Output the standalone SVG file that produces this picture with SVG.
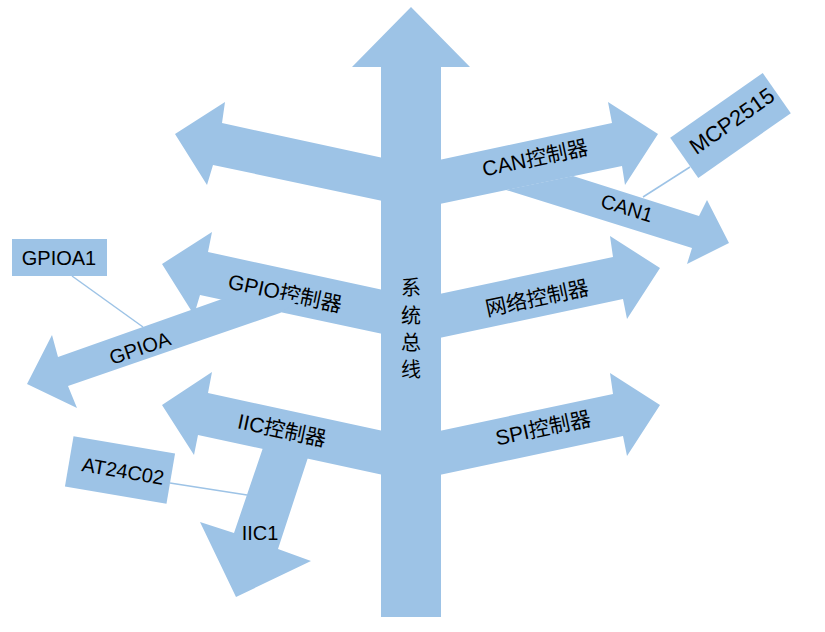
<svg xmlns="http://www.w3.org/2000/svg" width="825" height="632" viewBox="0 0 825 632">
<style>
.a{fill:#9DC3E6;stroke:none}
.b{fill:#9DC3E6;stroke:none}
.c{stroke:#9DC3E6;stroke-width:1.5;fill:none}
text{font-family:"Liberation Sans","Noto Sans CJK SC",sans-serif;font-size:20px;fill:#000;text-anchor:middle;dominant-baseline:central}
.l{font-size:21px}
</style>
<rect width="825" height="632" fill="#fff"/>
<g id="connectors">
<line class="c" x1="643" y1="197" x2="690" y2="167"/>
<line class="c" x1="72" y1="276" x2="143" y2="327"/>
<line class="c" x1="170" y1="483" x2="247" y2="495"/>
</g>
<g id="arrow-upper-left"><polygon class="a" points="411,164 222,123 225,102 175,134 207,185 213,165 411,207"/></g>
<g id="gpio"><polygon class="a" points="411,296 208,252 212,232 162,264 194,315 200,295 411,340"/><text class="l" transform="translate(285,293) rotate(12)">GPIO控制器</text></g>
<g id="gpioa"><polygon class="a" points="222,299 58,357 52,335 27,384 77,408 68,386 280,313 300,300"/><text transform="translate(140,348) rotate(-19)">GPIOA</text></g>
<g id="gpioa1"><rect class="b" x="12" y="239" width="95" height="37"/><text x="59" y="258">GPIOA1</text></g>
<g id="iic"><polygon class="a" points="411,437 208,393 212,372 162,405 194,455 198,435 411,481"/></g>
<g id="iic1"><polygon class="a" points="269,430 234,533 200,522 236,597 311,561 278,549 317,430"/><text x="260" y="533">IIC1</text></g>
<g id="iic-label"><text class="l" transform="translate(282,430) rotate(12)">IIC控制器</text></g>
<g id="at24c02"><rect class="b" x="-51.5" y="-25.5" width="103" height="51" transform="translate(120,470) rotate(9.7)"/><text transform="translate(123,471) rotate(9.7)">AT24C02</text></g>
<g id="can"><polygon class="a" points="411,166 612,123 608,102 658,134 625,185 622,166 411,210"/></g>
<g id="can1"><polygon class="a" points="573,176 699,216 707,200 729,243 687,264 692,248 506,190"/><text transform="translate(627,208) rotate(17)">CAN1</text></g>
<g id="can-label"><text class="l" transform="translate(535,158) rotate(-12)">CAN控制器</text></g>
<g id="mcp2515"><rect class="b" x="-56.5" y="-24.5" width="113" height="49" transform="translate(730.5,125.5) rotate(-35)"/><text style="font-size:22px" transform="translate(732,121) rotate(-35)">MCP2515</text></g>
<g id="net"><polygon class="a" points="411,300 613,257 610,236 660,268 627,319 623,299 411,344"/><text class="l" transform="translate(537,298) rotate(-12)">网络控制器</text></g>
<g id="spi"><polygon class="a" points="411,437 613,394 610,373 660,405 627,456 623,436 411,481"/><text class="l" transform="translate(543,428) rotate(-12)">SPI控制器</text></g>
<g id="bus"><polygon class="a" points="381,617 381,67 352,67 411,7 470,67 441,67 441,617"/>
<text x="411" y="288">系</text><text x="411" y="316">统</text><text x="411" y="343">总</text><text x="411" y="370">线</text></g>
</svg>
